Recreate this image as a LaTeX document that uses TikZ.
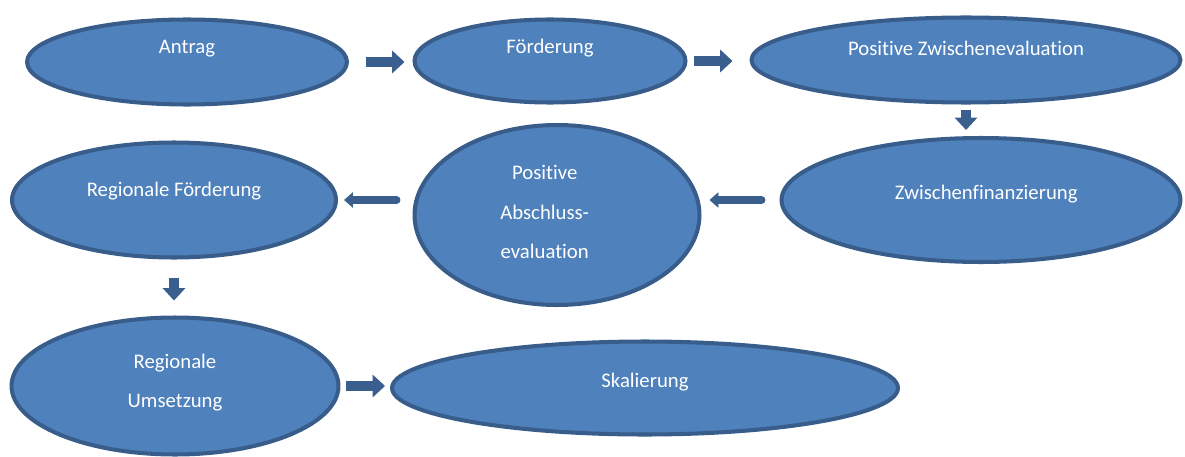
\documentclass[tikz,border=0pt]{standalone}
\usepackage{fontspec}
\setmainfont[Ligatures=NoCommon]{Carlito}
\usetikzlibrary{shapes.geometric, arrows.meta}

\definecolor{ellfill}{HTML}{4F81BD}
\definecolor{elldraw}{HTML}{385D8A}
\definecolor{arrcol}{HTML}{3A5F8E}

\begin{document}
\begin{tikzpicture}[
    x=0.02cm, y=-0.02cm,
    ell/.style={ellipse, draw=elldraw, fill=ellfill, line width=2.3pt, inner sep=0pt},
    txt/.style={text=white, align=center, font=\fontsize{11.8}{22.5}\selectfont},
    barr/.style={draw=arrcol, line width=5.7pt, -{Triangle[length=7pt, width=12.5pt]}},
    larr/.style={draw=arrcol, line width=4.5pt, line cap=round, -{Triangle[length=5pt, width=8.5pt]}},
]
\useasboundingbox (0,0) rectangle (1185,456);

% === Row 1 ===
\node[ell, minimum width=6.4cm, minimum height=1.7cm, label={[txt, yshift=7.8pt]center:Antrag}] (antrag) at (187,62) {};
\node[ell, minimum width=5.42cm, minimum height=1.66cm, label={[txt, yshift=7.4pt]center:Förderung}] (foerderung) at (550,61) {};
\node[ell, minimum width=8.58cm, minimum height=1.7cm, label={[txt, yshift=6.8pt]center:Positive Zwischenevaluation}] (zwischeneval) at (966,60) {};

% === Row 2 ===
\node[ell, minimum width=7.98cm, minimum height=2.48cm, label={[txt, yshift=3.6pt, xshift=3pt]center:Zwischenfinanzierung}] (finanz) at (981,200) {};
\node[ell, minimum width=5.7cm, minimum height=3.6cm, label={[txt, yshift=1.5pt, xshift=-7pt]center:Positive\\Abschluss-\\evaluation}] (abschluss) at (557,215) {};
\node[ell, minimum width=6.48cm, minimum height=2.3cm, label={[txt, yshift=5.2pt]center:Regionale Förderung}] (regfoerd) at (174,200) {};

% === Row 3 ===
\node[ell, minimum width=6.54cm, minimum height=2.74cm, label={[txt, yshift=2pt]center:Regionale\\Umsetzung}] (regums) at (175,386) {};
\node[ell, minimum width=10.12cm, minimum height=1.86cm, label={[txt, yshift=3.6pt]center:Skalierung}] (skal) at (645,388) {};

% Arrows
\draw[barr, shorten <=0.34cm, shorten >=0.16cm] (antrag.east) -- (antrag.east -| foerderung.west);
\draw[barr, shorten <=0.12cm, shorten >=0.34cm] (foerderung.east) -- (foerderung.east -| zwischeneval.west);
\draw[barr, shorten <=0.1cm, shorten >=0.12cm] (zwischeneval.south) -- (zwischeneval.south |- finanz.north);
\draw[larr, shorten <=0.36cm, shorten >=0.16cm] (finanz.west) -- (finanz.west -| abschluss.east);
\draw[larr, shorten <=0.32cm, shorten >=0.12cm] (abschluss.west |- regfoerd.east) -- (regfoerd.east);
\draw[barr, shorten <=0.36cm, shorten >=0.3cm] (regfoerd.south) -- (regfoerd.south |- regums.north);
\draw[barr, shorten <=0.12cm, shorten >=0.1cm] (regums.east) -- (regums.east -| skal.west);
\end{tikzpicture}
\end{document}
